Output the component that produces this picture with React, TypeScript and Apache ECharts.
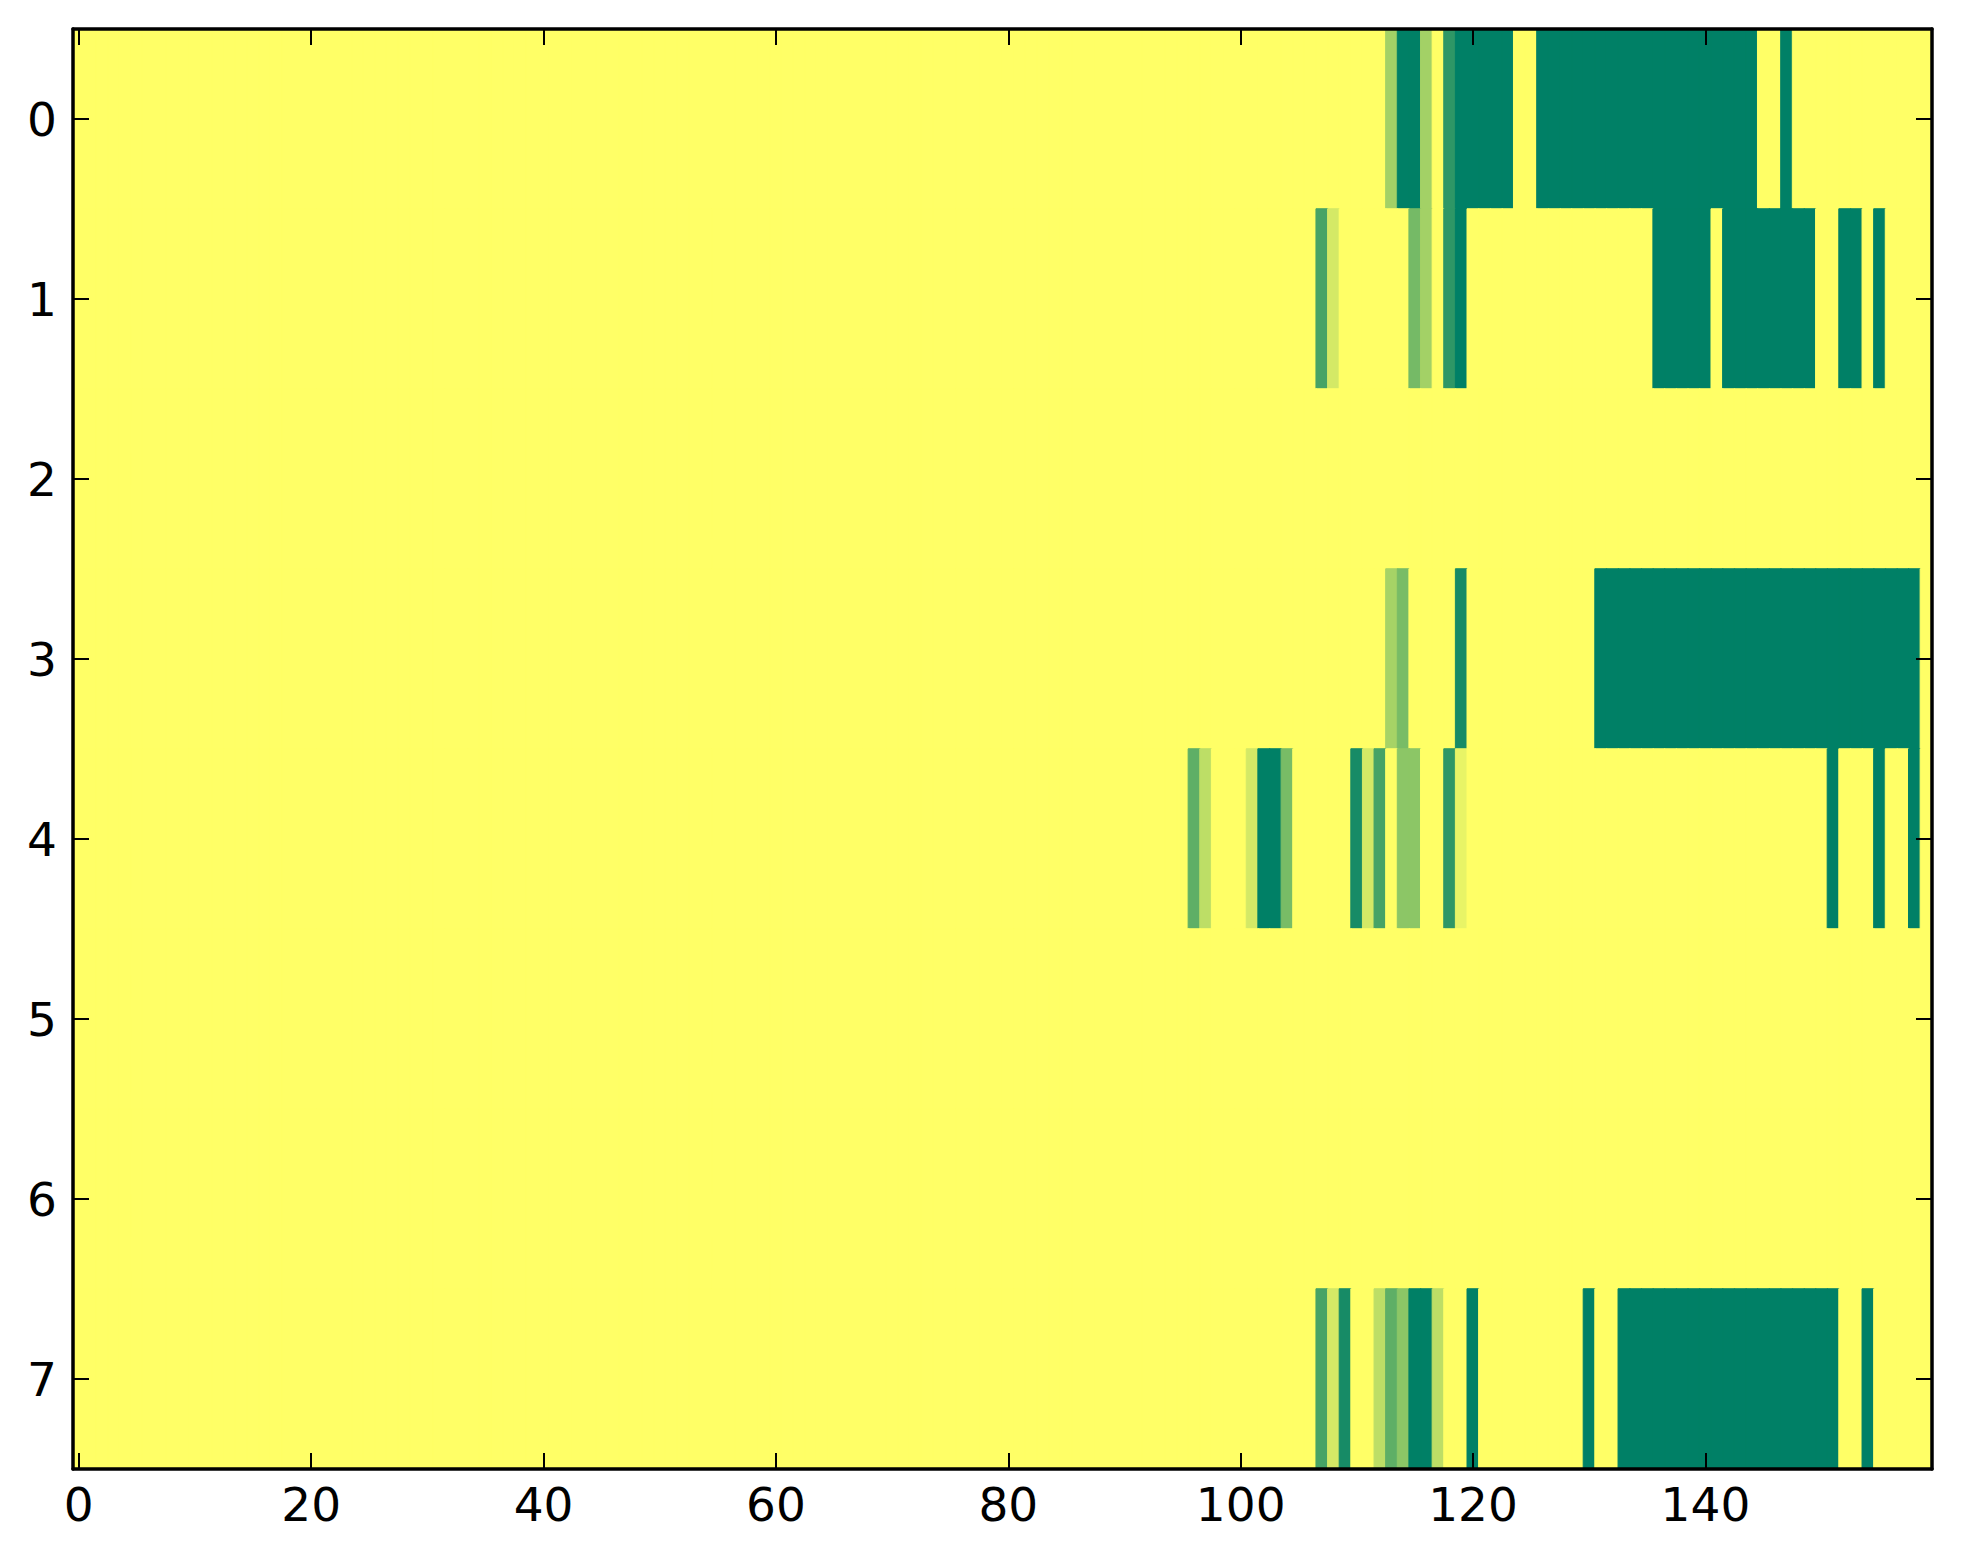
import React, { useEffect, useRef } from "react";
import * as echarts from "echarts";

// columns 0..159, rows 0..7
const columnCount = 160;
const rowLabels = ["0", "1", "2", "3", "4", "5", "6", "7"];
const xTickStep = 20;

// nonzero cells per row, as runs [firstColumn, lastColumn, value] (value 0..1)
const row0 = [[113, 113, 0.36], [114, 115, 1], [116, 116, 0.36], [118, 118, 0.82], [119, 123, 1], [126, 144, 1], [147, 147, 1]];
const row1 = [[107, 107, 0.725], [108, 108, 0.17], [115, 115, 0.54], [116, 116, 0.36], [118, 118, 0.82], [119, 119, 1], [136, 140, 1], [142, 149, 1], [152, 153, 1], [155, 155, 1]];
const row2: number[][] = [];
const row3 = [[113, 113, 0.35], [114, 114, 0.53], [119, 119, 0.91], [131, 158, 1]];
const row4 = [[96, 96, 0.63], [97, 97, 0.26], [101, 101, 0.17], [102, 103, 1], [104, 104, 0.53], [110, 110, 0.91], [111, 111, 0.17], [112, 112, 0.725], [114, 115, 0.45], [118, 118, 0.82], [119, 119, 0.09], [151, 151, 1], [155, 155, 1], [158, 158, 1]];
const row5: number[][] = [];
const row6: number[][] = [];
const row7 = [[107, 107, 0.725], [108, 108, 0.17], [109, 109, 0.91], [112, 112, 0.26], [113, 113, 0.63], [114, 114, 0.45], [115, 116, 1], [117, 117, 0.26], [120, 120, 1], [130, 130, 1], [133, 151, 1], [154, 154, 1]];
const rows = [row0, row1, row2, row3, row4, row5, row6, row7];

// summer_r colour map end points (value 0 -> first, value 1 -> second)
const colorLow = [255, 255, 102];
const colorHigh = [0, 128, 102];

function toCss(c: number[]) {
  return `rgb(${c[0]},${c[1]},${c[2]})`;
}
function colormap(v: number) {
  return toCss(colorLow.map((lo, i) => Math.round(lo + (colorHigh[i] - lo) * v)));
}

export default function App() {
  const ref = useRef<HTMLDivElement>(null);
  useEffect(() => {
    if (!ref.current) return;
    const chart = echarts.init(ref.current, null, { renderer: "svg" });
    const categories = Array.from({ length: columnCount }, (_, i) => String(i));
    const data: any[] = [];
    rows.forEach((runs, r) => {
      const vals = new Array(columnCount).fill(0);
      runs.forEach(([a, b, v]) => {
        for (let c = a; c <= b; c++) vals[c] = v;
      });
      vals.forEach((v, c) => {
        data.push({ value: [c, r, v], itemStyle: { borderColor: colormap(v), borderWidth: 1 } });
      });
    });
    const font = "DejaVu Sans";
    const tickFn = (i: number) => i % xTickStep === 0;
    const axisLine = { show: true, onZero: false, lineStyle: { color: "#000", width: 3.5 } };
    const tickStyle = { color: "#000", width: 2 };
    chart.setOption({
      animation: false,
      grid: { left: 65, top: 21, width: 1859, height: 1440, containLabel: false },
      visualMap: {
        type: "continuous",
        show: false,
        min: 0,
        max: 1,
        dimension: 2,
        seriesIndex: 0,
        inRange: { color: [toCss(colorLow), toCss(colorHigh)] },
      },
      xAxis: [
        {
          type: "category",
          data: categories,
          position: "bottom",
          z: 10,
          axisLine,
          axisTick: { show: true, inside: true, length: 16, alignWithLabel: true, interval: tickFn, lineStyle: tickStyle },
          axisLabel: { show: true, interval: tickFn, color: "#000", fontFamily: font, fontSize: 47, margin: 12 },
          splitLine: { show: false },
        },
        {
          type: "category",
          data: categories,
          position: "top",
          z: 10,
          axisLine,
          axisTick: { show: true, inside: true, length: 16, alignWithLabel: true, interval: tickFn, lineStyle: tickStyle },
          axisLabel: { show: false },
          splitLine: { show: false },
        },
      ],
      yAxis: [
        {
          type: "category",
          data: rowLabels,
          inverse: true,
          position: "left",
          z: 10,
          axisLine,
          axisTick: { show: true, inside: true, length: 16, alignWithLabel: true, interval: 0, lineStyle: tickStyle },
          axisLabel: { show: true, interval: 0, color: "#000", fontFamily: font, fontSize: 47, margin: 16 },
          splitLine: { show: false },
        },
        {
          type: "category",
          data: rowLabels,
          inverse: true,
          position: "right",
          z: 10,
          axisLine,
          axisTick: { show: true, inside: true, length: 16, alignWithLabel: true, interval: 0, lineStyle: tickStyle },
          axisLabel: { show: false },
          splitLine: { show: false },
        },
      ],
      series: [
        {
          type: "heatmap",
          xAxisIndex: 0,
          yAxisIndex: 0,
          data,
          progressive: 0,
          emphasis: { disabled: true },
          z: 1,
        },
      ],
    });
    return () => chart.dispose();
  }, []);
  return <div ref={ref} style={{ width: 1947, height: 1548 }} />;
}
